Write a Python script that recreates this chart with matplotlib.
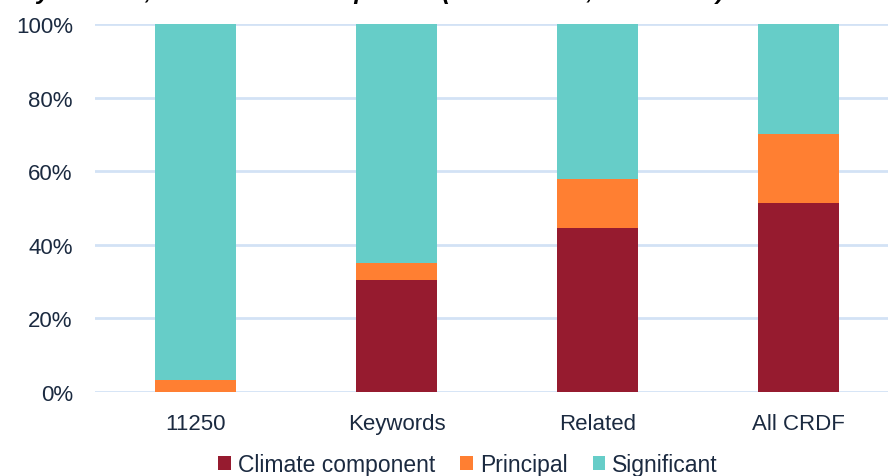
import numpy as np
import matplotlib
import matplotlib.pyplot as plt

matplotlib.use("Agg")
plt.rcParams['font.family'] = ['Liberation Sans', 'DejaVu Sans']

# shares in percent, stacked to 100
categories = ["11250", "Keywords", "Related", "All CRDF"]
climate_component = [0.0, 30.4, 44.5, 51.4]
principal = [3.2, 4.7, 13.3, 18.6]
significant = [96.8, 64.9, 42.2, 30.0]
y_ticks = [0, 20, 40, 60, 80, 100]
y_tick_labels = ["0%", "20%", "40%", "60%", "80%", "100%"]

MAROON = "#961b2f"
ORANGE = "#ff7f32"
TEAL = "#66cdc8"
TEXT = "#1b2a40"
GRID = "#d3e2f5"

fig = plt.figure(figsize=(8.88, 4.77), dpi=100)
ax = fig.add_axes([95 / 888, 1 - 393 / 477, 804 / 888, 368 / 477])

x = np.arange(len(categories))
width = 0.4
bottom = np.zeros(len(categories))
for vals, color, name in [(climate_component, MAROON, "Climate component"),
                          (principal, ORANGE, "Principal"),
                          (significant, TEAL, "Significant")]:
    ax.bar(x, vals, width, bottom=bottom, color=color, label=name, zorder=3)
    bottom += np.array(vals)

ax.set_xlim(-0.5, 3.5)
ax.set_ylim(0, 100)
ax.set_yticks(y_ticks)
ax.set_yticklabels(y_tick_labels)
ax.set_xticks(x)
ax.set_xticklabels(categories)
ax.tick_params(axis="both", length=0, labelsize=16, labelcolor=TEXT)
ax.tick_params(axis="y", pad=16)
ax.tick_params(axis="x", pad=15)
ax.grid(axis="y", color=GRID, linewidth=2, zorder=0)
for s in ax.spines.values():
    s.set_visible(False)

leg = fig.legend(loc="center", bbox_to_anchor=(468 / 888, 1 - 466 / 477), ncol=3,
                 frameon=False, fontsize=16.5, handlelength=0.55, handleheight=0.55,
                 handletextpad=0.3, columnspacing=1.1, borderaxespad=0)
for t in leg.get_texts():
    t.set_color(TEXT)

# heading sits mostly above the top edge, only its descenders show
fig.text(22 / 888, 1 + 1 / 477,
         "by method, with climate component (USD million, 2013-2021)",
         fontsize=17.5, fontweight="bold", fontstyle="italic", color="black",
         ha="left", va="baseline")

fig.savefig("out.png", dpi=100)
